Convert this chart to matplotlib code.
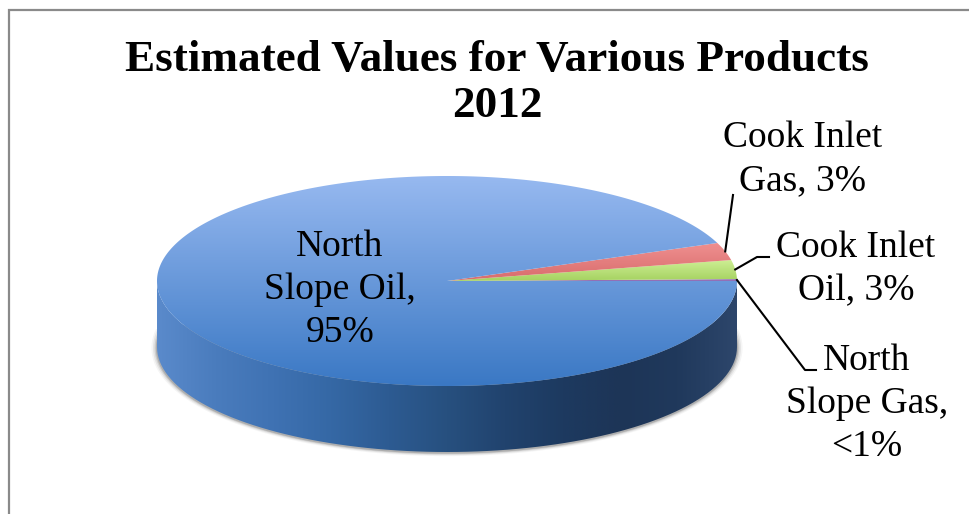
import numpy as np
import matplotlib
matplotlib.use('Agg')
import matplotlib.pyplot as plt
from matplotlib.colors import LinearSegmentedColormap
from matplotlib.patches import Polygon

title = 'Estimated Values for Various Products\n2012'

# slices, counter clockwise from 3 o'clock
products = ['North Slope Gas', 'Cook Inlet Oil', 'Cook Inlet Gas', 'North Slope Oil']
shares = [0.3, 2.9, 2.7, 94.1]
top_colors = [('#a884c8', '#8c68b0'), ('#cdee94', '#a5d260'), ('#f09090', '#d86c6c'), ('#97b9f0', '#3a78c4')]

label_texts = ['North\nSlope Gas,\n<1%', 'Cook Inlet\nOil, 3%', 'Cook Inlet\nGas, 3%', 'North\nSlope Oil,\n95%']

# pie geometry in image pixels
cx, cy = 447, 281
rx, ry = 290, 105
depth = 66

plt.rcParams['font.family'] = ['Liberation Serif', 'DejaVu Serif']

fig = plt.figure(figsize=(9.69, 5.14), dpi=100)
ax = fig.add_axes([0, 0, 1, 1])
ax.set_xlim(0, 969)
ax.set_ylim(514, 0)
ax.axis('off')


def rim(t, dy=0):
    # point on the ellipse, t in degrees
    t = np.radians(t)
    return np.column_stack([cx + rx * np.cos(t), cy - ry * np.sin(t) + dy])


def clipped_gradient(poly, colors, horizontal=False, zorder=2):
    cmap = LinearSegmentedColormap.from_list('g', colors)
    xs, ys = poly[:, 0], poly[:, 1]
    grad = np.linspace(0, 1, 256)
    grad = grad.reshape(1, -1) if horizontal else grad.reshape(-1, 1)
    im = ax.imshow(grad, cmap=cmap, aspect='auto', zorder=zorder, vmin=0, vmax=1,
                   extent=[xs.min(), xs.max(), ys.max(), ys.min()], interpolation='bilinear')
    im.set_clip_path(Polygon(poly, closed=True, transform=ax.transData))


# frame
ax.plot([9, 9, 969], [514, 10, 10], color='#8a8a8a', lw=1.6, solid_joinstyle='miter', zorder=1)

# soft shadow round the side wall
front = np.arange(180, 361, 2.0)
side = np.vstack([rim(front), rim(front[::-1], depth)])
for grow, alpha in [(7, 0.06), (5, 0.10), (3, 0.16), (1.5, 0.25)]:
    low = np.arange(170, 371, 2.0)
    t = np.radians(low)
    sx = cx + (rx + grow * 0.8) * np.cos(t)
    sy = cy + depth - (ry + grow * 0.45) * np.sin(t) + 1
    ax.fill(np.r_[sx, cx], np.r_[sy, cy], color='#555555', alpha=alpha, lw=0, zorder=1.5)

# side wall
clipped_gradient(side, ['#5a8acb', '#4a7cbd', '#3f72b3', '#3568a5', '#2d5b92', '#27507f', '#21436e',
                        '#1d3a60', '#1d3557', '#20395c', '#2d466b'], horizontal=True)

# top face
ang = 0.0
mids = []
for share, cols in zip(shares, top_colors):
    span = share / sum(shares) * 360
    t = np.linspace(ang, ang + span, max(int(span * 2), 2))
    poly = np.vstack([[cx, cy], rim(t)])
    clipped_gradient(poly, list(cols), zorder=3)
    mids.append(ang + span / 2)
    ang += span

# labels
label_style = dict(ha='center', va='center', fontsize=27, linespacing=1.32, color='black', zorder=5)
ax.text(340, 290, label_texts[3], **label_style)
ax.text(867, 404, label_texts[0], **label_style)
ax.text(856, 269, label_texts[1], **label_style)
ax.text(803, 159, label_texts[2], **label_style)

# leader lines start on the rim of their slice
p = rim(mids[0])[0]
ax.plot([p[0], 805, 816], [p[1], 370, 370], color='black', lw=1.5, zorder=5)
p = rim(mids[1])[0]
ax.plot([p[0], 757, 769], [p[1], 257, 257], color='black', lw=1.5, zorder=5)
p = rim(mids[2])[0]
ax.plot([p[0], 733], [p[1], 195], color='black', lw=1.5, zorder=5)

ax.text(497, 83, title, ha='center', va='center', fontsize=32.5, fontweight='bold', linespacing=1.18, color='black', zorder=5)

ax.set_xlim(0, 969)
ax.set_ylim(514, 0)
fig.savefig('out.png', dpi=100)
